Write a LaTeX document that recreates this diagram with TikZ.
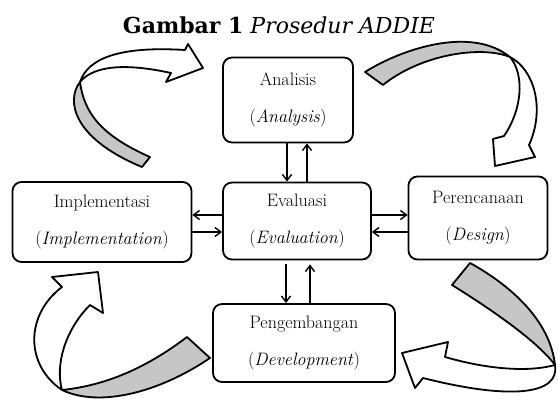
\documentclass[tikz,border=0pt]{standalone}
\usepackage{fontspec}
\newfontfamily\titlefont{DejaVu Serif}
\usetikzlibrary{arrows.meta,positioning}
\definecolor{ribbon}{RGB}{198,198,198}

\begin{document}
\begin{tikzpicture}[
                x=1pt, y=-1pt,
                box/.style={draw,rounded corners=9pt,line width=1.8pt,align=center,inner sep=0pt,
                            font=\fontsize{18}{37}\selectfont},
                link/.style={-{Straight Barb[length=6pt,width=9pt]},line width=1.4pt},
                band/.style={draw,line width=1.8pt,line join=round,fill=ribbon},
                shaft/.style={draw,line width=1.8pt,line join=round,fill=white}
            ]
                \useasboundingbox (0,0) rectangle (558,401);
                \node (title) at (279,25) {\titlefont\fontsize{22}{26}\selectfont\textbf{Gambar 1} \textit{Prosedur ADDIE}};
                \node (ana) [box,minimum width=130pt,minimum height=85pt] at (288,100) {Analisis\\(\textit{Analysis})};
                \node (eva) [box,minimum width=148pt,minimum height=77pt] at (297,221) {Evaluasi\\(\textit{Evaluation})};
                \node (imp) [box,minimum width=179pt,minimum height=80pt] at (102,222) {Implementasi\\(\textit{Implementation})};
                \node (per) [box,minimum width=139pt,minimum height=83pt] at (478,218) {Perencanaan\\(\textit{Design})};
                \node (dev) [box,minimum width=182pt,minimum height=78pt] at (304,343) {Pengembangan\\(\textit{Development})};
                \coordinate (ae1) at ([xshift=-10pt]eva.north);
                \coordinate (ae2) at ([xshift=10pt]eva.north);
                \coordinate (ei1) at ([yshift=6pt]eva.west);
                \coordinate (ei2) at ([yshift=-11pt]eva.west);
                \coordinate (ep1) at ([yshift=6pt]eva.east);
                \coordinate (ep2) at ([yshift=-11pt]eva.east);
                \coordinate (ed1) at ([xshift=-11pt]eva.south);
                \coordinate (ed2) at ([xshift=13pt]eva.south);
                \draw[link] (ae1 |- ana.south) -- (ae1);
                \draw[link] (ae2) -- (ae2 |- ana.south);
                \draw[link] (ei1) -- (ei1 -| imp.east);
                \draw[link] (ei2 -| imp.east) -- (ei2);
                \draw[link] (ep1) -- (ep1 -| per.west);
                \draw[link] (ep2 -| per.west) -- (ep2);
                \draw[link,shorten <=4pt] (ed1) -- (ed1 |- dev.north);
                \draw[link,shorten >=4pt] (ed2 |- dev.north) -- (ed2);
                % curved block arrows
                \path[band] (80,82) .. controls (66,100) and (72,138) .. (142,167) -- (150,157)
                    .. controls (100,135) and (84,112) .. (80,82) -- cycle;
                \path[shaft] (80,82) .. controls (88,58) and (120,46) .. (185,50) -- (188,44) -- (203,68)
                    -- (166,82) -- (171,73) .. controls (130,64) and (95,64) .. (80,82) -- cycle;
                \path[band] (365,72) .. controls (400,50) and (470,25) .. (510,57)
                    .. controls (480,45) and (420,55) .. (383,85) -- cycle;
                \path[shaft] (510,57) .. controls (535,70) and (545,110) .. (529,145) -- (535,157) -- (495,166)
                    -- (493,139) -- (504,136) .. controls (522,110) and (525,75) .. (510,57) -- cycle;
                \path[band] (62,390) .. controls (110,385) and (150,365) .. (187,337) -- (210,358)
                    .. controls (160,392) and (100,408) .. (62,390) -- cycle;
                \path[shaft] (62,390) .. controls (25,365) and (25,315) .. (62,287) -- (52,277) -- (98,272)
                    -- (103,313) -- (90,305) .. controls (65,330) and (55,365) .. (62,390) -- cycle;
                \path[band] (470,263) .. controls (510,285) and (550,320) .. (555,365)
                    .. controls (540,345) and (505,318) .. (452,285) -- cycle;
                \path[shaft] (555,365) .. controls (560,395) and (510,400) .. (423,378) -- (415,388) -- (402,353)
                    -- (448,342) -- (445,357) .. controls (490,370) and (530,372) .. (555,365) -- cycle;
            \end{tikzpicture}
\end{document}
